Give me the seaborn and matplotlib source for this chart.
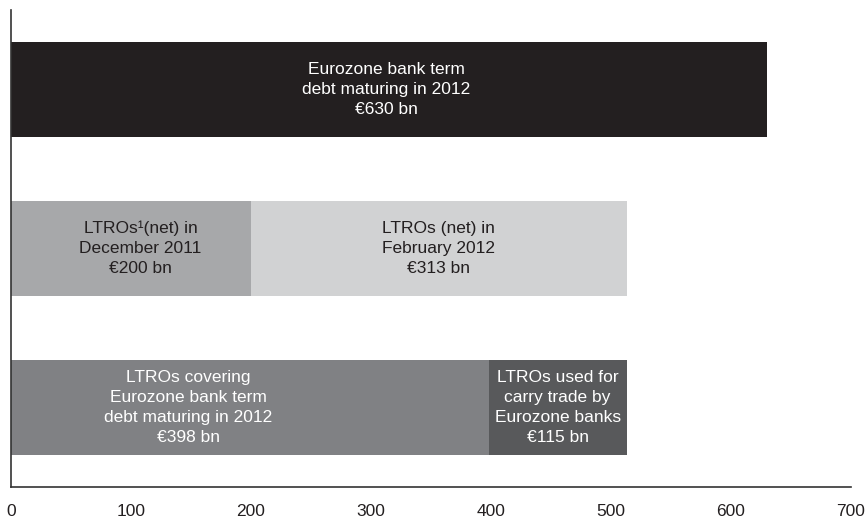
import pandas as pd
import matplotlib.pyplot as plt
import seaborn as sns

# Bar data (EUR bn)
rows = ["Term debt", "LTRO rounds", "LTRO use"]
totals = [630, 513, 513]          # full length of each bar
first_seg = [630, 200, 398]       # left-hand segment of each bar
total_colors = ["#231f20", "#d1d2d3", "#58595b"]
seg_colors = ["#231f20", "#a7a8aa", "#808184"]

labels = [
    "Eurozone bank term\ndebt maturing in 2012\n€630 bn",
    "LTROs\u00b9(net) in\nDecember 2011\n€200 bn",
    "LTROs (net) in\nFebruary 2012\n€313 bn",
    "LTROs covering\nEurozone bank term\ndebt maturing in 2012\n€398 bn",
    "LTROs used for\ncarry trade by\nEurozone banks\n€115 bn",
]
label_x = [313, 108, 356.5, 148, 455.5]
label_row = [0, 1, 1, 2, 2]
label_color = ["white", "#231f20", "#231f20", "white", "white"]

df = pd.DataFrame({"row": rows, "total": totals, "seg": first_seg})

sns.set_style("white")
plt.rcParams["font.family"] = ["Liberation Sans", "DejaVu Sans"]

fig = plt.figure(figsize=(8.66, 5.22), dpi=100)
ax = fig.add_axes([0.0127, 0.067, 0.97, 0.914])

sns.barplot(data=df, x="total", y="row", hue="row", order=rows,
            palette=dict(zip(rows, total_colors)), saturation=1,
            width=0.6, legend=False, ax=ax, linewidth=0)
sns.barplot(data=df, x="seg", y="row", hue="row", order=rows,
            palette=dict(zip(rows, seg_colors)), saturation=1,
            width=0.6, legend=False, ax=ax, linewidth=0)

for txt, x, r, c in zip(labels, label_x, label_row, label_color):
    ax.text(x, r, txt, ha="center", va="center", fontsize=12.5,
            color=c, linespacing=1.42)

ax.set_xlim(0, 700)
ax.set_ylim(2.5, -0.5)
ax.set_xticks(range(0, 701, 100))
ax.set_yticks([])
ax.set_xlabel("")
ax.set_ylabel("")
for s in ["top", "right"]:
    ax.spines[s].set_visible(False)
for s in ["left", "bottom"]:
    ax.spines[s].set_color("#333333")
    ax.spines[s].set_linewidth(1.2)
ax.tick_params(axis="x", direction="out", length=6, width=1.2,
               color="#333333", labelsize=12.5, labelcolor="#231f20", pad=6)

fig.savefig("out.png", dpi=100)
